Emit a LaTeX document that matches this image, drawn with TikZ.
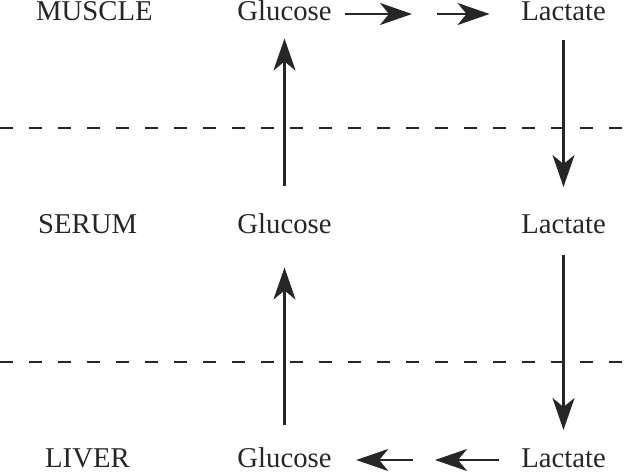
\documentclass[tikz,border=0pt]{standalone}
\usepackage{fontspec}
\setmainfont{Liberation Serif}
\usetikzlibrary{arrows.meta}

\tikzset{
  lbl/.style={inner sep=0pt, anchor=base, text=black!85,
    font=\fontsize{28.7}{34}\selectfont},
  place/.style={lbl, anchor=base west},
  flow/.style={-{Stealth[length=32pt, width=22pt, inset=9pt]},
    line width=2.6pt, draw=black!85},
  border/.style={line width=2.8pt, draw=black!85, dash pattern=on 13pt off 16pt}
}

\begin{document}
\begin{tikzpicture}[x=1pt, y=-1pt]
\useasboundingbox (0,0) rectangle (627,473);

% compartments
\node[place] (muscle) at (36,21) {MUSCLE};
\node[place] (serum) at (38,234) {SERUM};
\node[place] (liver) at (45,467) {LIVER};

% metabolites
\node[lbl] (gm) at (284.5,21) {Glucose};
\node[lbl] (lm) at (563.5,21) {Lactate};
\node[lbl] (gs) at (284.5,234) {Glucose};
\node[lbl] (ls) at (563.5,234) {Lactate};
\node[lbl] (gl) at (284.5,467) {Glucose};
\node[lbl] (ll) at (563.5,467) {Lactate};

% membranes
\draw[border] (0,128) -- (627,128);
\draw[border] (0,362) -- (627,362);

% glycolysis in muscle
\coordinate (mt) at (424.5,14);
\draw[flow, shorten <=13.5pt, shorten >=12.5pt] (gm.east |- mt) -- (mt);
\draw[flow, shorten <=12.5pt, shorten >=31.5pt] (mt) -- (lm.west |- mt);

% transport
\draw[flow, shorten <=28pt, shorten >=17pt] (gs.north) -- (gm.south);
\draw[flow, shorten <=19pt, shorten >=28pt] (lm.south) -- (ls.north);
\draw[flow, shorten <=21pt, shorten >=18pt] (ls.south) -- (ll.north);
\draw[flow, shorten <=22pt, shorten >=33pt] (gl.north) -- (gs.south);

% gluconeogenesis in liver
\coordinate (mb) at (424,460);
\draw[flow, shorten <=22.5pt, shorten >=11pt] (ll.west |- mb) -- (mb);
\draw[flow, shorten <=11pt, shorten >=24.5pt] (mb) -- (gl.east |- mb);
\end{tikzpicture}
\end{document}
